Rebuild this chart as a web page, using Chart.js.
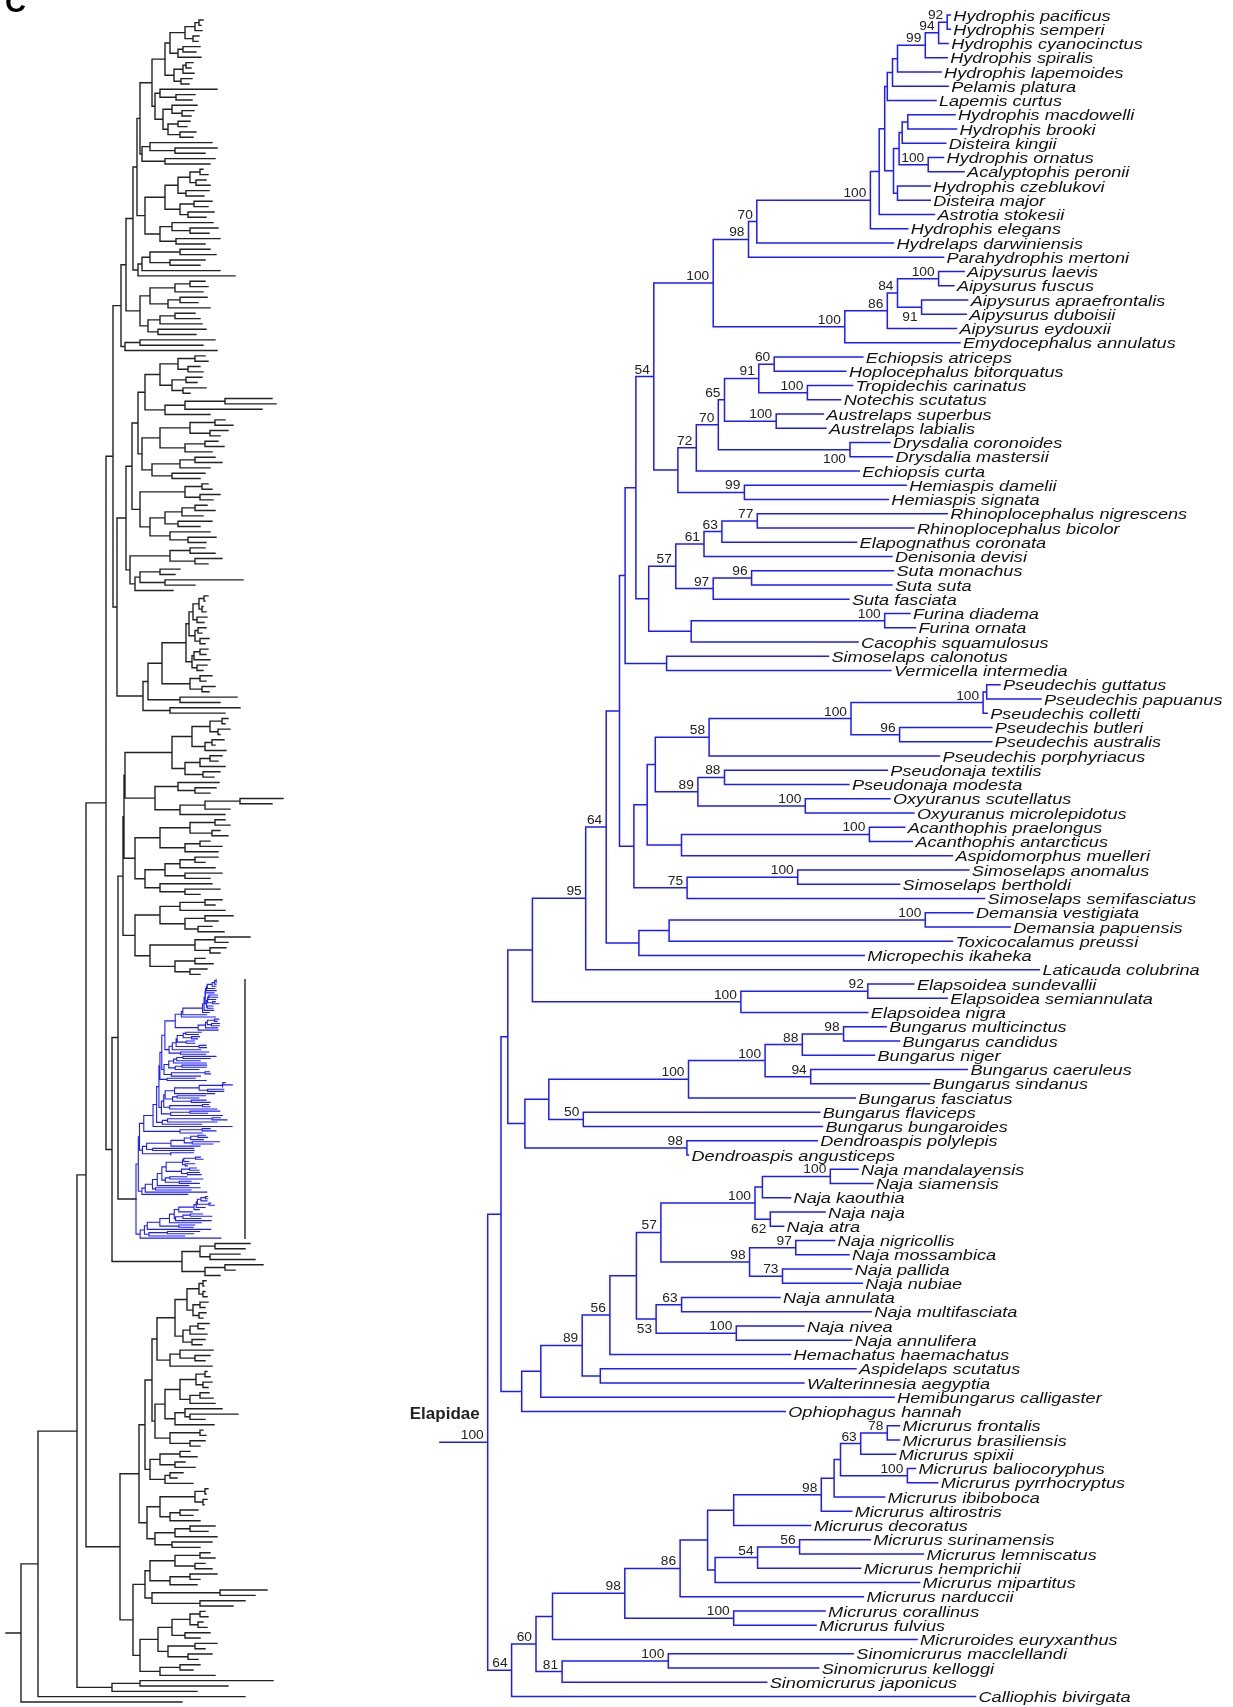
<!DOCTYPE html>
<html>
<head>
<meta charset="utf-8">
<title>Elapidae phylogeny</title>
<script src="https://cdn.jsdelivr.net/npm/chart.js@4.4.1/dist/chart.umd.min.js"></script>
<style>
  html, body { margin: 0; padding: 0; background: #fff; }
  canvas { display: block; }
</style>
</head>
<body>
<canvas id="tree" width="1233" height="1707"></canvas>
<script>
//
//
// Elapidae - Tip Names (top to bottom)
var leafNames = [
  'Hydrophis pacificus', 'Hydrophis semperi', 'Hydrophis cyanocinctus', 'Hydrophis spiralis', 'Hydrophis lapemoides',
  'Pelamis platura', 'Lapemis curtus', 'Hydrophis macdowelli', 'Hydrophis brooki', 'Disteira kingii',
  'Hydrophis ornatus', 'Acalyptophis peronii', 'Hydrophis czeblukovi', 'Disteira major', 'Astrotia stokesii',
  'Hydrophis elegans', 'Hydrelaps darwiniensis', 'Parahydrophis mertoni', 'Aipysurus laevis', 'Aipysurus fuscus',
  'Aipysurus apraefrontalis', 'Aipysurus duboisii', 'Aipysurus eydouxii', 'Emydocephalus annulatus', 'Echiopsis atriceps',
  'Hoplocephalus bitorquatus', 'Tropidechis carinatus', 'Notechis scutatus', 'Austrelaps superbus', 'Austrelaps labialis',
  'Drysdalia coronoides', 'Drysdalia mastersii', 'Echiopsis curta', 'Hemiaspis damelii', 'Hemiaspis signata',
  'Rhinoplocephalus nigrescens', 'Rhinoplocephalus bicolor', 'Elapognathus coronata', 'Denisonia devisi', 'Suta monachus',
  'Suta suta', 'Suta fasciata', 'Furina diadema', 'Furina ornata', 'Cacophis squamulosus',
  'Simoselaps calonotus', 'Vermicella intermedia', 'Pseudechis guttatus', 'Pseudechis papuanus', 'Pseudechis colletti',
  'Pseudechis butleri', 'Pseudechis australis', 'Pseudechis porphyriacus', 'Pseudonaja textilis', 'Pseudonaja modesta',
  'Oxyuranus scutellatus', 'Oxyuranus microlepidotus', 'Acanthophis praelongus', 'Acanthophis antarcticus', 'Aspidomorphus muelleri',
  'Simoselaps anomalus', 'Simoselaps bertholdi', 'Simoselaps semifasciatus', 'Demansia vestigiata', 'Demansia papuensis',
  'Toxicocalamus preussi', 'Micropechis ikaheka', 'Laticauda colubrina', 'Elapsoidea sundevallii', 'Elapsoidea semiannulata',
  'Elapsoidea nigra', 'Bungarus multicinctus', 'Bungarus candidus', 'Bungarus niger', 'Bungarus caeruleus',
  'Bungarus sindanus', 'Bungarus fasciatus', 'Bungarus flaviceps', 'Bungarus bungaroides', 'Dendroaspis polylepis',
  'Dendroaspis angusticeps', 'Naja mandalayensis', 'Naja siamensis', 'Naja kaouthia', 'Naja naja',
  'Naja atra', 'Naja nigricollis', 'Naja mossambica', 'Naja pallida', 'Naja nubiae',
  'Naja annulata', 'Naja multifasciata', 'Naja nivea', 'Naja annulifera', 'Hemachatus haemachatus',
  'Aspidelaps scutatus', 'Walterinnesia aegyptia', 'Hemibungarus calligaster', 'Ophiophagus hannah', 'Micrurus frontalis',
  'Micrurus brasiliensis', 'Micrurus spixii', 'Micrurus baliocoryphus', 'Micrurus pyrrhocryptus', 'Micrurus ibiboboca',
  'Micrurus altirostris', 'Micrurus decoratus', 'Micrurus surinamensis', 'Micrurus lemniscatus', 'Micrurus hemprichii',
  'Micrurus mipartitus', 'Micrurus narduccii', 'Micrurus corallinus', 'Micrurus fulvius', 'Micruroides euryxanthus',
  'Sinomicrurus macclellandi', 'Sinomicrurus kelloggi', 'Sinomicrurus japonicus', 'Calliophis bivirgata'
];

//
// Tip position of every name (same order)
var leafTipX = [
  950.3, 950.3, 948.2, 947.2, 941.1, 948.2, 936.0, 955.0, 956.5, 945.7,
  943.6, 964.1, 930.3, 930.3, 934.4, 907.8, 893.5, 943.6, 964.1, 953.9,
  967.7, 966.2, 956.5, 960.0, 862.8, 845.9, 852.5, 840.7, 823.3, 825.9,
  889.9, 892.5, 859.2, 906.3, 888.3, 947.2, 913.9, 856.6, 891.9, 893.5,
  891.9, 848.9, 909.9, 915.5, 858.1, 828.4, 890.9, 1000.0, 1041.0, 987.2,
  991.8, 991.8, 939.6, 887.3, 848.9, 889.9, 913.9, 904.7, 912.4, 952.4,
  968.8, 899.6, 984.6, 972.9, 1010.2, 952.4, 864.3, 1039.4, 913.9, 947.2,
  867.8, 886.2, 899.5, 874.5, 967.4, 929.7, 855.3, 819.7, 822.4, 817.2,
  688.5, 858.0, 872.9, 790.6, 825.1, 783.6, 834.6, 849.0, 851.7, 862.3,
  780.0, 871.3, 803.9, 851.7, 790.6, 855.9, 803.9, 894.1, 785.2, 899.5,
  899.5, 895.7, 915.4, 937.7, 884.6, 851.7, 810.7, 870.2, 923.4, 860.7,
  919.6, 863.4, 825.1, 816.1, 917.1, 853.3, 818.7, 766.7, 975.5
];

//
// Clades: first tip, last tip, node position, bootstrap, label under branch
var clades = [
  [1, 2, 947.2, '92'], [1, 3, 938.6, '94'], [1, 4, 925.3, '99'], [1, 5, 897.5, ''],
  [1, 6, 892.5, ''], [1, 7, 887.3, ''], [8, 9, 907.8, ''], [8, 10, 902.2, ''],
  [11, 12, 928.2, '100'], [8, 12, 899.1, ''], [13, 14, 897.5, ''], [8, 14, 893.5, ''],
  [1, 14, 884.7, ''], [1, 15, 879.2, ''], [1, 16, 870.4, '100'], [1, 17, 756.8, '70'],
  [1, 18, 748.5, '98'], [19, 20, 938.6, '100'], [21, 22, 921.6, '91', 1], [19, 22, 897.5, '84'],
  [19, 23, 887.3, '86'], [19, 24, 844.8, '100'], [1, 24, 713.2, '100'],
  [25, 26, 774.2, '60'], [27, 28, 807.4, '100'], [25, 28, 758.8, '91'], [29, 30, 776.2, '100'],
  [25, 30, 724.5, '65'], [31, 32, 850.0, '100', 1], [25, 32, 718.3, '70'], [25, 33, 696.3, '72'],
  [34, 35, 744.4, '99'], [25, 35, 677.9, ''], [1, 35, 653.8, '54'],
  [36, 37, 757.3, '77'], [36, 38, 721.9, '63'], [36, 39, 704.0, '61'], [40, 41, 751.6, '96'],
  [40, 42, 713.2, '97'], [36, 42, 675.8, '57'], [43, 44, 884.7, '100'], [43, 45, 691.2, ''],
  [36, 45, 648.7, ''], [1, 45, 635.9, ''], [46, 47, 666.6, ''], [1, 47, 625.1, ''],
  [48, 49, 986.7, ''], [48, 50, 983.1, '100'], [51, 52, 899.6, '96'], [48, 52, 851.0, '100'],
  [48, 53, 709.1, '58'], [54, 55, 724.5, '88'], [56, 57, 805.3, '100'], [54, 57, 697.9, '89'],
  [48, 57, 655.3, ''], [58, 59, 869.4, '100'], [58, 60, 681.5, ''], [48, 60, 647.2, ''],
  [61, 62, 797.7, '100'], [61, 63, 687.1, '75'], [48, 63, 633.9, ''], [1, 63, 619.5, ''],
  [64, 65, 925.3, '100'], [64, 66, 669.1, ''], [64, 67, 638.9, ''], [1, 67, 606.2, '64'],
  [1, 68, 585.7, '95'], [69, 70, 867.8, '92'], [69, 71, 740.9, '100'], [1, 71, 532.4, ''],
  [72, 73, 843.6, '98'], [72, 74, 802.3, '88'], [75, 76, 810.7, '94'], [72, 76, 765.1, '100'],
  [72, 77, 688.5, '100'], [78, 79, 583.3, '50'], [72, 79, 548.8, ''], [80, 81, 686.9, '98'],
  [72, 81, 524.9, ''], [1, 81, 507.8, ''],
  [82, 83, 830.3, '100'], [82, 84, 762.4, ''], [85, 86, 770.3, '62', 1], [82, 86, 755.0, '100'],
  [87, 88, 795.8, '97'], [89, 90, 782.5, '73'], [87, 90, 749.6, '98'], [82, 90, 660.9, '57'],
  [91, 92, 681.6, '63'], [93, 94, 736.3, '100'], [91, 94, 656.1, '53', 1], [82, 94, 636.4, ''],
  [82, 95, 609.9, '56'], [96, 97, 600.3, ''], [82, 97, 582.2, '89'], [82, 98, 540.8, ''],
  [82, 99, 521.7, ''], [1, 99, 501.0, ''],
  [100, 101, 887.3, '78'], [100, 102, 860.7, '63'], [103, 104, 907.4, '100'], [100, 104, 840.5, ''],
  [100, 105, 834.1, ''], [100, 106, 821.3, '98'], [100, 107, 733.7, ''], [108, 109, 799.6, '56'],
  [108, 110, 757.6, '54'], [108, 111, 715.1, ''], [100, 111, 707.6, ''], [100, 112, 680.1, '86'],
  [113, 114, 733.7, '100'], [100, 114, 624.8, '98'], [100, 115, 552.5, ''], [116, 117, 668.3, '100'],
  [116, 118, 562.1, '81'], [100, 118, 536.0, '60'], [100, 119, 511.6, '64'],
  [1, 119, 487.7, '100']
];

var rootStartX = 439.9;
var cladeName = 'Elapidae';

//
// Whole snake tree (left panel), Newick-like: every node is followed by its position
var leftA1 = '(((((203,201)199,202)195,(199,198)193)185,((200,196)183,201)178)170,(((193,191)186,194)183,(192,189)181)174)165';
var leftA2 = '((217,(195,192)176)160,((197,(194,191)182)172,((190,187)178,(196,193)180)168)163)155';
var leftB = '((212,(217,205)175)150,(215,210)165)142';
var leftC = '(((((203,208)200,(206,210)196)190,(209,204)186)178,((212,208)194,(214,206)188)180)165,((213,(218,209)190)172,(220,205)176)160)145';
var leftD = '((((210,216)180,(205,200)170)150,220)142,235)138';
var leftE = '((((205,208)190,203)175,((207,198)180,210)168)150,(((195,200)175,202)160,(206,196)158)148)140';
var leftF = '((215,203)140,217)125';
var leftG = '((((205,208)195,(200,203)188)178,((202,197)186,(206,190)183)172)160,(((272,276)225,262)185,210)165)145';
var leftH = '((((225,233)215,(228,220)210)190,((218,224)205,212)185)160,(((215,222)195,210)180,(205,200)172)152)142';
var leftI = '(((208,212)202,(220,213)200)185,((((207,215)195,203)182,(212,200)178)165,(210,(216,206)188)170)150)140';
var leftI2 = '(((205,215)190,(222,208)195)170,(((180,175)160,(243,195)165)140,173)135)130';
var leftJ = '((((((((208,205)204,(203,206)202)199,(207,204)197)193,((206,202)198,(209,205)200)195)189,(((208,206)200,210)194,(207,203)197)192)186,((212,206)200,(215,209)202)190)162,(237,220)180)148,(240,225)170)143';
var leftK = '(((((228,225)222,(230,220)218)210,((224,215)212,226)205)192,(((222,218)210,225)200,(220,214)203)185)172,((219,(216,210)195)178,(((283,272)240,230)205,225)180)155)125';
var leftL = '((((225,230)215,(220,228)212)190,((210,222)200,218)185)160,((((218,205)195,215)180,(222,210)185)165,(212,(220,200)185)160)145)135';
var leftM = '((((222,215)205,225)180,((233,218)205,(212,224)198)185)160,(((250,228)215,(226,220)210)195,((205,213)195,(207,200)190)175)150)135';
var leftN = '(((250,245)215,(240,255)210)200,((263,235)225,220)205)182';
var leftO1 = '(((((206,204)203,(205,207)203)199,((208,205)200,(206,203)199)193)187,(((209,204)198,207)190,(205,202)192)183)175,((213,(210,205)195)180,212)170)157';
var leftO2 = '(((((207,210)205,(212,208)203)196,((209,213)200,215)190)180,((222,(238,205)190)185,214)175)165,((203,206)200,(205,200)190)170)155';
var leftO3 = '(((190,197)180,(185,195)175)160,((183,177)170,193)165)150';
var leftO4 = '((((208,206)205,(207,204)203)195,((198,193)180,200)170)160,(((215,208)190,217)175,(212,200)172)155)147';
var leftP1 = '(((210,215)200,(205,212)195)175,((217,200)190,197)170)150';
var leftP2 = '((267,255)220,(245,233)200)152';
var leftP3 = '(((((205,208)200,(203,207)198)190,(210,200)185)172,((217,205)195,(212,198)188)168)158,((200,193)180,215)160)140';
var leftUpperA = '((((((A1,A2)152,B)140,C)137,D)133,E)126,F)121';
var leftUpperB = '((((G,H)138,I)132,I2)126,J)117';
var leftMiddle = '((((K,L)124,M)123,ELAPIDAE)118,N)112';
var leftLower = '((((O1,O2)152,O3)145,O4)139,((P1,P2)145,P3)133)120';
var leftBase = '((((((UA,UB)113,MID)106,LOW)86,((273,228)140,197)112)77,245)38,182)21';

var leftParts = {
  A1: leftA1, A2: leftA2, B: leftB, C: leftC, D: leftD, E: leftE, F: leftF,
  G: leftG, H: leftH, I: leftI, I2: leftI2, J: leftJ, K: leftK, L: leftL, M: leftM,
  N: leftN, O1: leftO1, O2: leftO2, O3: leftO3, O4: leftO4, P1: leftP1, P2: leftP2, P3: leftP3,
  UA: leftUpperA, UB: leftUpperB, MID: leftMiddle, LOW: leftLower
};

//
// Layout
var leafTop = 15, leafStep = 14.25;
var leftTop = 20, leftBottom = 1702, leftStartX = 6;
var blueStep = 2.19, blueRootX = 136, blueScale = 0.174, bracketX = 245;
var blue = '#1c1cff', black = '#222';
var nameFont = 'italic 15.5px "Liberation Sans", Arial, sans-serif', nameStretch = 1.17;
var supportFont = '12.5px "Liberation Sans", Arial, sans-serif', supportStretch = 1.1;

//
//
// Build the Elapidae tree from the clade list
function buildRightTree() {
  var top = leafNames.map(function(name, i) {
    return { name: name, x: leafTipX[i], y: leafTop + i * leafStep, kids: null };
  });
  var nodes = [];
  var sorted = clades.slice().sort(function(a, b) { return (a[1] - a[0]) - (b[1] - b[0]); });
  sorted.forEach(function(c) {
    var node = { x: c[2], label: c[3], below: !!c[4], kids: [] };
    for (var i = c[0] - 1; i <= c[1] - 1; i++) {
      if (node.kids[node.kids.length - 1] !== top[i]) node.kids.push(top[i]);
      top[i] = node;
    }
    node.y = (node.kids[0].y + node.kids[node.kids.length - 1].y) / 2;
    nodes.push(node);
  });
  return { root: top[0], nodes: nodes, leaves: collectLeaves(top[0], []) };
}

function collectLeaves(node, out) {
  if (!node.kids) out.push(node);
  else node.kids.forEach(function(k) { collectLeaves(k, out); });
  return out;
}

//
// Newick-like reader
function parseTree(text, lookup) {
  var pos = 0;
  function readNumber() {
    var m = /^-?\d+(\.\d+)?/.exec(text.slice(pos));
    pos += m[0].length;
    return parseFloat(m[0]);
  }
  function readNode() {
    var ch = text[pos];
    if (ch === '(') {
      pos++;
      var kids = [readNode()];
      while (text[pos] === ',') { pos++; kids.push(readNode()); }
      pos++;
      return { x: readNumber(), kids: kids };
    }
    if (/[A-Za-z]/.test(ch)) {
      var m = /^[A-Za-z][A-Za-z0-9]*/.exec(text.slice(pos));
      pos += m[0].length;
      return lookup(m[0]);
    }
    return { x: readNumber(), kids: null };
  }
  return readNode();
}

function mapBlue(node, rootX) {
  return {
    x: blueRootX + (node.x - rootX) * blueScale,
    blue: true,
    kids: node.kids ? node.kids.map(function(k) { return mapBlue(k, rootX); }) : null
  };
}

function setNodeY(node) {
  if (!node.kids) return node.y;
  node.kids.forEach(setNodeY);
  node.y = (node.kids[0].y + node.kids[node.kids.length - 1].y) / 2;
  return node.y;
}

//
// Segments (NaN breaks the line)
function pushNode(node, out, pick) {
  if (!node.kids) return;
  if (pick(node)) {
    var first = node.kids[0], last = node.kids[node.kids.length - 1];
    out.push({ x: first.x, y: first.y }, { x: node.x, y: first.y },
             { x: node.x, y: last.y }, { x: last.x, y: last.y }, { x: NaN, y: NaN });
    for (var i = 1; i < node.kids.length - 1; i++) {
      out.push({ x: node.x, y: node.kids[i].y }, { x: node.kids[i].x, y: node.kids[i].y }, { x: NaN, y: NaN });
    }
  }
  node.kids.forEach(function(k) { pushNode(k, out, pick); });
}

var right = buildRightTree();

var leftRoot = parseTree(leftBase, function lookup(name) {
  if (name === 'ELAPIDAE') return mapBlue(right.root, right.root.x);
  return parseTree(leftParts[name], lookup);
});
var leftLeaves = collectLeaves(leftRoot, []);
var nBlueSteps = 0, nSteps = 0;
for (var k = 1; k < leftLeaves.length; k++) {
  if (leftLeaves[k].blue && leftLeaves[k - 1].blue) nBlueSteps++; else nSteps++;
}
var blackStep = (leftBottom - leftTop - nBlueSteps * blueStep) / nSteps;
leftLeaves[0].y = leftTop;
for (k = 1; k < leftLeaves.length; k++) {
  var both = leftLeaves[k].blue && leftLeaves[k - 1].blue;
  leftLeaves[k].y = leftLeaves[k - 1].y + (both ? blueStep : blackStep);
}
setNodeY(leftRoot);
var blueLeaves = leftLeaves.filter(function(l) { return l.blue; });

var rightPts = [{ x: rootStartX, y: right.root.y }, { x: right.root.x, y: right.root.y }, { x: NaN, y: NaN }];
pushNode(right.root, rightPts, function() { return true; });
var leftBlackPts = [{ x: leftStartX, y: leftRoot.y }, { x: leftRoot.x, y: leftRoot.y }, { x: NaN, y: NaN }];
pushNode(leftRoot, leftBlackPts, function(n) { return !n.blue; });
var leftBluePts = [];
pushNode(leftRoot, leftBluePts, function(n) { return n.blue; });
var bracketPts = [{ x: bracketX, y: blueLeaves[0].y }, { x: bracketX, y: blueLeaves[blueLeaves.length - 1].y }];

function lineSet(data, color, width) {
  return {
    data: data, showLine: true, borderColor: color, borderWidth: width,
    pointRadius: 0, pointHoverRadius: 0, fill: false, tension: 0,
    spanGaps: false, borderCapStyle: 'square', borderJoinStyle: 'miter'
  };
}

// text a little wider than the font, like the figure
function stretchedText(c, text, x, y, stretch) {
  c.save();
  c.translate(x, y);
  c.scale(stretch, 1);
  c.fillText(text, 0, 0);
  c.restore();
}

//
// Names, bootstraps and panel letters
var treeLabels = {
  id: 'treeLabels',
  afterDatasetsDraw: function(chart) {
    var c = chart.ctx, sx = chart.scales.x, sy = chart.scales.y;
    c.save();
    c.fillStyle = '#111';
    c.textAlign = 'left';
    c.textBaseline = 'alphabetic';
    c.font = nameFont;
    right.leaves.forEach(function(leaf) {
      stretchedText(c, leaf.name, sx.getPixelForValue(leaf.x) + 3, sy.getPixelForValue(leaf.y) + 5.6, nameStretch);
    });

    c.fillStyle = '#222';
    c.textAlign = 'right';
    c.font = supportFont;
    right.nodes.forEach(function(n) {
      if (!n.label) return;
      var px = sx.getPixelForValue(n.x) - 4, py = sy.getPixelForValue(n.y);
      if (n.below) { c.textBaseline = 'top'; stretchedText(c, n.label, px, py + 4, supportStretch); }
      else { c.textBaseline = 'alphabetic'; stretchedText(c, n.label, px, py - 3, supportStretch); }
    });

    c.textBaseline = 'alphabetic';
    c.fillStyle = '#222';
    c.font = 'bold 17px "Liberation Sans", Arial, sans-serif';
    c.fillText(cladeName, sx.getPixelForValue(right.root.x) - 8, sy.getPixelForValue(right.root.y) - 23);

    c.textAlign = 'left';
    c.fillStyle = '#000';
    c.font = 'bold 29px "Liberation Sans", Arial, sans-serif';
    c.fillText('C', 5, 12);
    c.restore();
  }
};

var ctx = document.getElementById('tree').getContext('2d');
new Chart(ctx, {
  type: 'scatter',
  data: {
    datasets: [
      lineSet(leftBlackPts, black, 1.4),
      lineSet(leftBluePts, blue, 1.1),
      lineSet(bracketPts, '#333', 1.5),
      lineSet(rightPts, blue, 1.5)
    ]
  },
  options: {
    responsive: false,
    animation: false,
    devicePixelRatio: 1,
    events: [],
    layout: { padding: 0 },
    plugins: { legend: { display: false }, tooltip: { enabled: false } },
    scales: {
      x: { type: 'linear', min: 0, max: 1233, display: false },
      y: { type: 'linear', min: 0, max: 1707, reverse: true, display: false }
    }
  },
  plugins: [treeLabels]
});
</script>
</body>
</html>
